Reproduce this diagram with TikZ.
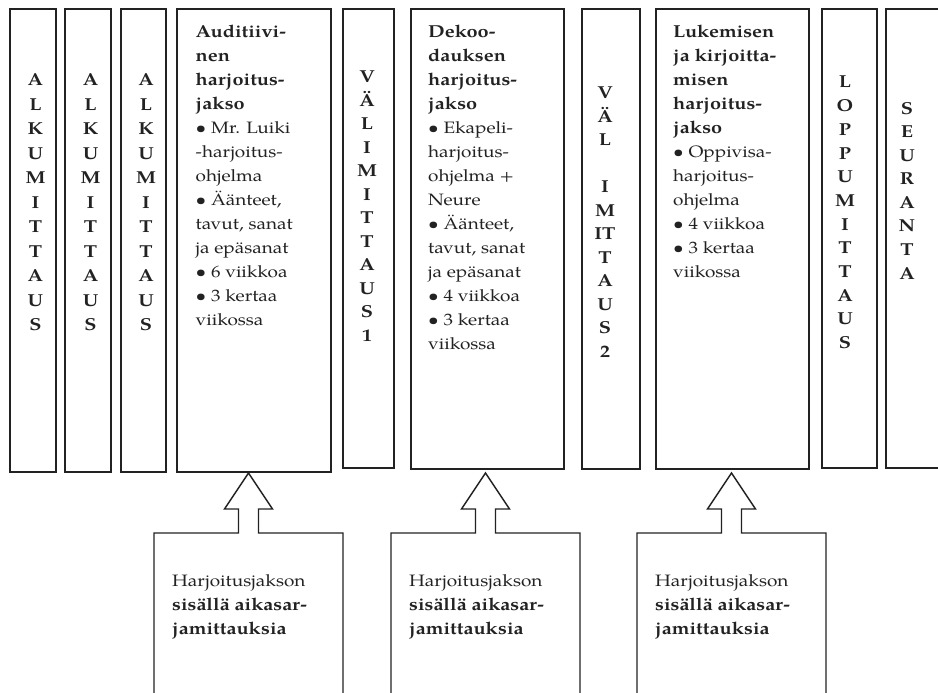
\documentclass[tikz,border=0pt]{standalone}
\usepackage{fontspec}
\setmainfont{TeX Gyre Pagella}[FakeStretch=1.15, BoldFeatures={Scale=1.05}]
\usetikzlibrary{calc}
\definecolor{ink}{HTML}{222222}
\newcommand{\mycol}[2][24]{\parbox[t]{40pt}{\centering\bfseries\fontsize{16.5}{#1}\selectfont #2}}
\newcommand{\mybody}[1]{\parbox[t]{160pt}{\raggedright\fontsize{16.5}{24}\selectfont #1}}
\tikzset{
  frame/.style={draw=ink, line width=1.4pt, rectangle, inner sep=0pt, outer sep=0pt, anchor=north west},
  lowbox/.style={rectangle, inner sep=0pt, outer sep=0pt, anchor=north west, minimum width=189pt, minimum height=200pt},
  vtext/.style={anchor=base, inner sep=0pt, text=ink},
  btext/.style={anchor=base west, inner sep=0pt, text=ink},
  outline/.style={draw=ink, line width=1.4pt, line join=miter},
}
\begin{document}
\begin{tikzpicture}[x=1pt,y=-1pt]
\useasboundingbox (0,0) rectangle (938,693);
\clip (0,0) rectangle (938,693);
\fill[white] (0,0) rectangle (938,693);

% top boxes
\node[frame, minimum width=46pt, minimum height=463pt] (b1) at (10,9) {};
\node[frame, minimum width=46pt, minimum height=463pt] (b2) at (65,9) {};
\node[frame, minimum width=45pt, minimum height=463pt] (b3) at (121,9) {};
\node[frame, minimum width=154pt, minimum height=463pt] (b4) at (177,9) {};
\node[frame, minimum width=51pt, minimum height=459pt] (b5) at (343,9) {};
\node[frame, minimum width=153pt, minimum height=460pt] (b6) at (411,9) {};
\node[frame, minimum width=58pt, minimum height=460pt] (b7) at (582,9) {};
\node[frame, minimum width=153pt, minimum height=460pt] (b8) at (656,9) {};
\node[frame, minimum width=55pt, minimum height=459pt] (b9) at (822,9) {};
\node[frame, minimum width=70pt, minimum height=459pt] (b10) at (886,9) {};

% vertical labels
\node[vtext] (v1) at (35.5,86) {\mycol[24.5]{A\\L\\K\\U\\M\\I\\T\\T\\A\\U\\S}};
\node[vtext] (v2) at (90.5,86) {\mycol[24.5]{A\\L\\K\\U\\M\\I\\T\\T\\A\\U\\S}};
\node[vtext] (v3) at (146,86) {\mycol[24.5]{A\\L\\K\\U\\M\\I\\T\\T\\A\\U\\S}};
\node[vtext] (v5) at (367,83) {\mycol[23.5]{V\\Ä\\L\\I\\M\\I\\T\\T\\A\\U\\S\\1}};
\node[vtext] (v7) at (605,99) {\mycol[23.5]{V\\Ä\\L\\\mbox{}\\I\\M\\IT\\T\\A\\U\\S\\2}};
\node[vtext] (v9) at (845,88) {\mycol[23.7]{L\\O\\P\\P\\U\\M\\I\\T\\T\\A\\U\\S}};
\node[vtext] (v10) at (907,114) {\mycol[23.6]{S\\E\\U\\R\\A\\N\\T\\A}};

% body texts
\node[btext] (t4) at (195.5,37.5) {\mybody{\textbf{Auditiivi-}\\\textbf{nen}\\\textbf{harjoitus-}\\\textbf{jakso}\\• Mr. Luiki\\-harjoitus-\\ohjelma\\• Äänteet,\\tavut, sanat\\ja epäsanat\\• 6 viikkoa\\• 3 kertaa\\viikossa}};
\node[btext] (t6) at (428,37.5) {\mybody{\textbf{Dekoo-}\\\textbf{dauksen}\\\textbf{harjoitus-}\\\textbf{jakso}\\• Ekapeli-\\harjoitus-\\ohjelma +\\Neure\\• Äänteet,\\tavut, sanat\\ja epäsanat\\• 4 viikkoa\\• 3 kertaa\\viikossa}};
\node[btext] (t8) at (673,37.5) {\mybody{\textbf{Lukemisen}\\\textbf{ja kirjoitta-}\\\textbf{misen}\\\textbf{harjoitus-}\\\textbf{jakso}\\• Oppivisa-\\harjoitus-\\ohjelma\\• 4 viikkoa\\• 3 kertaa\\viikossa}};

% lower boxes
\node[lowbox] (l1) at (154,533) {};
\node[lowbox] (l2) at (391,533) {};
\node[lowbox] (l3) at (637,533) {};
\foreach \n in {1,2,3}{
  \draw[outline] (l\n.south west) -- (l\n.north west)
    -- ($(l\n.north)+(-10,0)$) -- ($(l\n.north)+(-10,-24)$) -- ($(l\n.north)+(-24,-24)$)
    -- ($(l\n.north)+(0,-60)$)
    -- ($(l\n.north)+(24,-24)$) -- ($(l\n.north)+(10,-24)$) -- ($(l\n.north)+(10,0)$)
    -- (l\n.north east) -- (l\n.south east);
}
\node[btext] (h1) at ($(l1.north west)+(18,53)$) {\mybody{Harjoitusjakson\\\textbf{sisällä aikasar-}\\\textbf{jamittauksia}}};
\node[btext] (h2) at ($(l2.north west)+(18,53)$) {\mybody{Harjoitusjakson\\\textbf{sisällä aikasar-}\\\textbf{jamittauksia}}};
\node[btext] (h3) at ($(l3.north west)+(18,53)$) {\mybody{Harjoitusjakson\\\textbf{sisällä aikasar-}\\\textbf{jamittauksia}}};
\end{tikzpicture}
\end{document}
